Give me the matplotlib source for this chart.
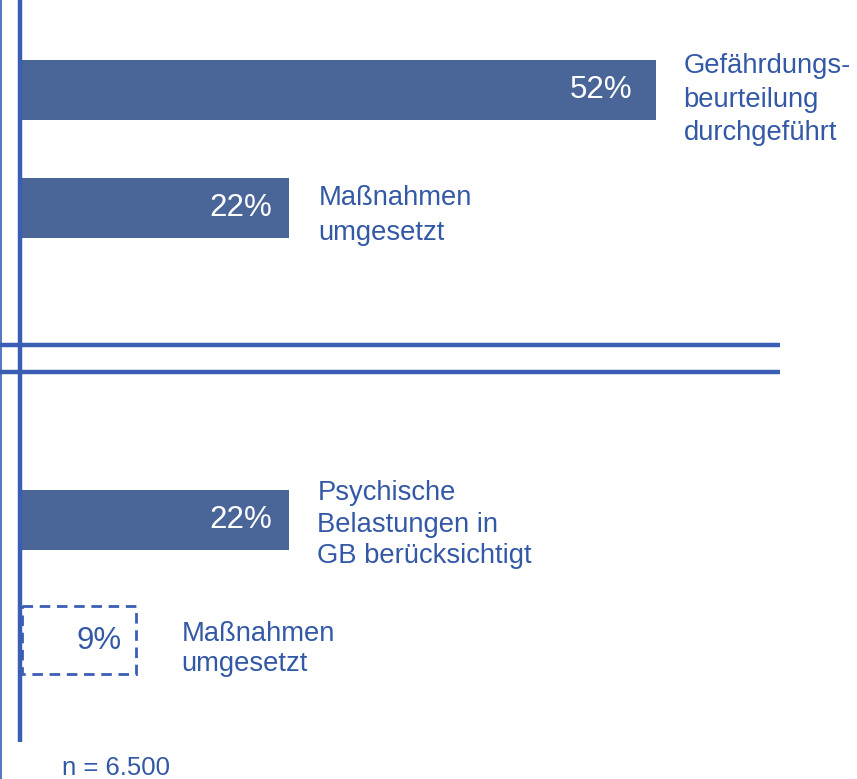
import matplotlib
matplotlib.use("Agg")
import matplotlib.pyplot as plt
from matplotlib.patches import Rectangle

# Data
labels = ["Gefährdungs-\nbeurteilung\ndurchgeführt", "Maßnahmen\numgesetzt",
          "Psychische\nBelastungen in\nGB berücksichtigt", "Maßnahmen\numgesetzt"]
values = [52, 22, 22, 9]
value_labels = ["52%", "22%", "22%", "9%"]
dashed = [False, False, False, True]
note = "n = 6.500"

# Layout (pixel-based)
y_centers = [90, 208, 520, 640]
heights = [60, 60, 60, 68]
label_y = [99.5, 215.5, 524.5, 649]
label_gap = [27, 29, 28, 46]       # px from bar end to label
value_gap = [24, 17, 17, 14]       # px from bar end to value label right edge
spacings = [1.38, 1.42, 1.27, 1.17]

bar_color = "#4A6598"
text_color = "#3358A6"
line_color = "#3A5EB4"

W, H = 857, 779
px = 12.24  # pixels per percent
x0 = 20     # pixel of 0%

fig = plt.figure(figsize=(W / 100, H / 100), dpi=100)
ax = fig.add_axes([0, 0, 1, 1])
ax.set_xlim(-x0 / px, (W - x0) / px)
ax.set_ylim(H, 0)
ax.axis("off")

font = "Liberation Sans"

for v, yc, h, vl, lab, d, ly, lg, vg, ls in zip(values, y_centers, heights, value_labels, labels,
                                                 dashed, label_y, label_gap, value_gap, spacings):
    if d:
        end = v + 0.45
        ax.add_patch(Rectangle((0.2, yc - h / 2), end - 0.2, h, facecolor="none",
                               edgecolor=line_color, lw=2.0, ls=(0, (3.8, 2.4))))
        ax.text(end - vg / px, yc + 1, vl, color=text_color, fontsize=22.5, family=font,
                ha="right", va="center")
    else:
        end = v
        ax.barh(yc, v, height=h, left=0, color=bar_color)
        ax.text(end - vg / px, yc, vl, color="white", fontsize=22.5, family=font,
                ha="right", va="center")
    ax.text(end + lg / px, ly, lab, color=text_color, fontsize=19.7, family=font,
            ha="left", va="center", linespacing=ls)

# axis lines
ax.plot([0, 0], [0, 742], color=line_color, lw=3.2, solid_capstyle="butt")
ax.plot([-x0 / px + 0.08, -x0 / px + 0.08], [0, H], color=line_color, lw=1.2)
for yy in (345, 372):
    ax.plot([-x0 / px, (780 - x0) / px], [yy, yy], color=line_color, lw=3.2, solid_capstyle="butt")

ax.text((62 - x0) / px, 768, note, color=text_color, fontsize=18.5, family=font,
        ha="left", va="center")

fig.savefig("out.png", dpi=100)
